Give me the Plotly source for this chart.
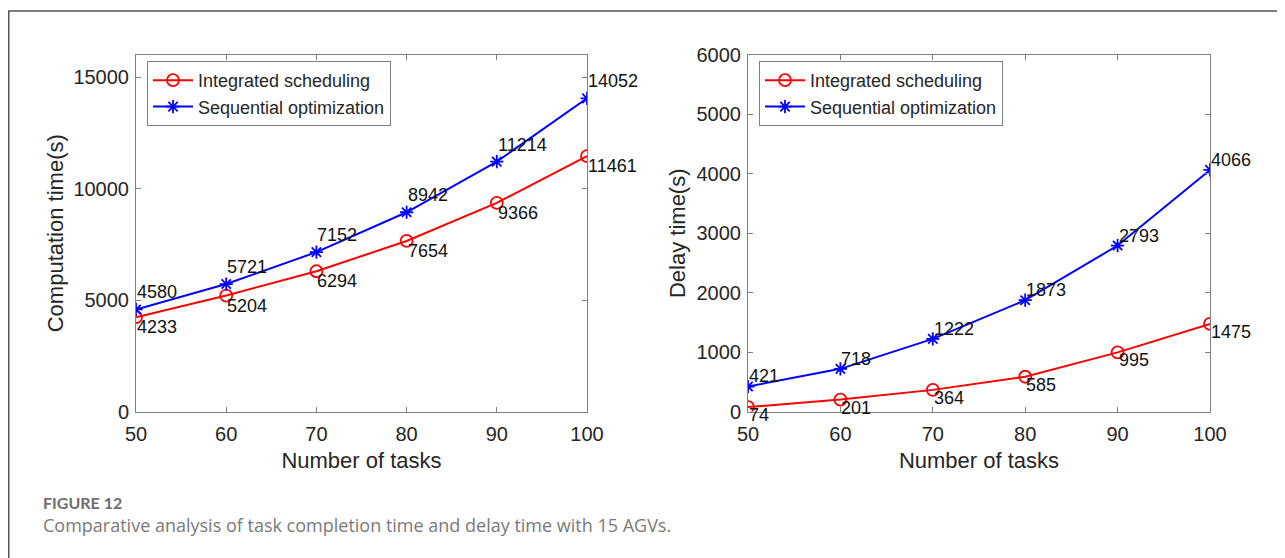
import plotly.graph_objects as go

tasks = [50, 60, 70, 80, 90, 100]
comp_integrated = [4233, 5204, 6294, 7654, 9366, 11461]
comp_sequential = [4580, 5721, 7152, 8942, 11214, 14052]
delay_integrated = [74, 201, 364, 585, 995, 1475]
delay_sequential = [421, 718, 1222, 1873, 2793, 4066]

comp_ticks = [0, 5000, 10000, 15000]
delay_ticks = [0, 1000, 2000, 3000, 4000, 5000, 6000]
x_ticks = [50, 60, 70, 80, 90, 100]

series_names = ["Integrated scheduling", "Sequential optimization"]
RED = "#FF0000"
BLUE = "#0000FF"
FONT = "Liberation Sans, Arial, sans-serif"
TXT = "#262626"

W, H = 1285, 558
OFF = 8  # page body margin compensation

def px(v):
    return (v - OFF) / W

def py(v):
    return 1 - (v - OFF) / H

fig = go.Figure()

def add_pair(xa, ya, integ, seq, legend):
    fig.add_trace(go.Scatter(
        x=tasks, y=integ, mode="lines+markers", name=series_names[0],
        line=dict(color=RED, width=2),
        marker=dict(symbol="circle-open", size=12, color=RED, line=dict(width=1.8, color=RED)),
        xaxis=xa, yaxis=ya, legend=legend))
    fig.add_trace(go.Scatter(
        x=tasks, y=seq, mode="lines+markers", name=series_names[1],
        line=dict(color=BLUE, width=2),
        marker=dict(symbol="asterisk-open", size=11, color=BLUE, line=dict(width=1.8, color=BLUE)),
        xaxis=xa, yaxis=ya, legend=legend))

add_pair("x", "y", comp_integrated, comp_sequential, "legend")
add_pair("x2", "y2", delay_integrated, delay_sequential, "legend2")

ann = []
def labels(xa, ya, vals, above, yshift):
    for xv, yv in zip(tasks, vals):
        ann.append(dict(x=xv, y=yv, xref=xa, yref=ya, text=str(yv), showarrow=False,
                        xanchor="left", yanchor="bottom" if above else "top",
                        xshift=-1, yshift=yshift,
                        font=dict(family=FONT, size=18, color="#111")))

labels("x", "y", comp_sequential, True, 5)
labels("x", "y", comp_integrated, False, 2)
labels("x2", "y2", delay_sequential, True, -2)
labels("x2", "y2", delay_integrated, False, 4)

# caption
ann.append(dict(x=px(41), y=py(502), xref="paper", yref="paper", text="<b>FIGURE 12</b>",
                showarrow=False, xanchor="left", yanchor="middle",
                font=dict(family="Lato, Open Sans, sans-serif", size=16, color="#6e6e6e")))
ann.append(dict(x=px(41), y=py(525), xref="paper", yref="paper",
                text="Comparative analysis of task completion time and delay time with 15 AGVs.",
                showarrow=False, xanchor="left", yanchor="middle",
                font=dict(family="Open Sans, sans-serif", size=18, color="#7a7a7a")))

axis_common = dict(showgrid=False, zeroline=False, showline=True, linecolor="#808080", linewidth=1,
                   mirror="ticks", ticks="inside", ticklen=5, tickcolor="#808080", automargin=False,
                   tickformat="d",
                   tickfont=dict(family=FONT, size=20, color=TXT))

title_font = dict(family=FONT, size=22, color=TXT)
ydom = [1 - (411.5 - OFF) / H, 1 - (55 - OFF) / H]
legend_common = dict(xanchor="left", yanchor="top", bgcolor="white",
                     bordercolor="#808080", borderwidth=1, font=dict(family=FONT, size=18, color=TXT),
                     tracegroupgap=0, itemwidth=40)
fig.update_layout(
    width=W, height=H, margin=dict(l=0, r=0, t=0, b=0, pad=0, autoexpand=False), autosize=False,
    paper_bgcolor="white", plot_bgcolor="white",
    xaxis=dict(domain=[px(136), px(587)], range=[50, 100], tickvals=x_ticks, anchor="y",
               ticklabelstandoff=4,
               title=dict(text="Number of tasks", font=title_font, standoff=9),
               **axis_common),
    yaxis=dict(domain=ydom, range=[0, 16000], tickvals=comp_ticks, anchor="x",
               ticklabelstandoff=2,
               title=dict(text="Computation time(s)", font=title_font, standoff=3),
               **axis_common),
    xaxis2=dict(domain=[px(748), px(1210)], range=[50, 100], tickvals=x_ticks, anchor="y2",
                ticklabelstandoff=4,
                title=dict(text="Number of tasks", font=title_font, standoff=9),
                **axis_common),
    yaxis2=dict(domain=ydom, range=[0, 6000], tickvals=delay_ticks, anchor="x2",
                ticklabelstandoff=2,
                title=dict(text="Delay time(s)", font=title_font, standoff=4),
                **axis_common),
    legend=dict(x=px(147), y=py(61), **legend_common),
    legend2=dict(x=px(759), y=py(61), **legend_common),
    annotations=ann,
    shapes=[dict(type="rect", xref="paper", yref="paper", x0=0.75 / W, y0=-0.1, x1=1.1, y1=py(11),
                 line=dict(color="#555555", width=1.5), fillcolor="rgba(0,0,0,0)", layer="below")],
    showlegend=True,
)

fig.write_html("out.html")
